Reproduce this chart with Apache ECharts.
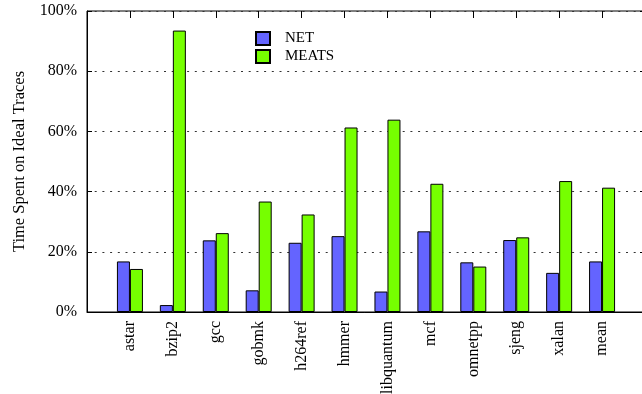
<!DOCTYPE html>
<html>
<head>
<meta charset="utf-8">
<script src="https://cdn.jsdelivr.net/npm/echarts@6/dist/echarts.min.js"></script>
<style>
  html, body { margin: 0; padding: 0; background: #fff; }
  #chart { width: 642px; height: 394px; }
</style>
</head>
<body>
<div id="chart"></div>
<script>
// Benchmarks on the x axis
const categories = ['astar', 'bzip2', 'gcc', 'gobmk', 'h264ref', 'hmmer',
  'libquantum', 'mcf', 'omnetpp', 'sjeng', 'xalan', 'mean'];

// Share of time spent on ideal traces (%)
const netValues = [16.8, 2.3, 23.8, 7.2, 23.0, 25.2, 6.8, 26.8, 16.5, 23.9, 13.0, 16.8];
const meatsValues = [14.3, 93.5, 26.2, 36.7, 32.4, 61.3, 63.9, 42.6, 15.1, 24.8, 43.5, 41.3];

const yTicks = [0, 20, 40, 60, 80, 100];

const FONT = '"Liberation Serif", "DejaVu Serif", serif';

const toPoints = vals => vals.map((v, i) => [i, v]);

const chart = echarts.init(document.getElementById('chart'), null, { renderer: 'canvas' });

chart.setOption({
  animation: false,
  backgroundColor: '#fff',
  textStyle: { fontFamily: FONT },
  grid: {
    left: 87, top: 11, width: 558, height: 301,
    outerBoundsMode: 'none', containLabel: false,
    show: true, borderColor: '#000', borderWidth: 1, backgroundColor: 'transparent'
  },
  legend: {
    orient: 'vertical',
    left: 250, top: 26,
    icon: 'rect',
    itemWidth: 14, itemHeight: 13, itemGap: 3,
    textStyle: { fontFamily: FONT, fontSize: 15, color: '#000', padding: [0, 0, 0, 10] },
    data: ['NET', 'MEATS']
  },
  xAxis: [{
    type: 'value', min: -1, max: 12, interval: 1,
    axisLine: { show: true, onZero: false, lineStyle: { color: '#000', width: 1 } },
    axisTick: { show: false },
    splitLine: { show: false },
    axisLabel: {
      rotate: 90, margin: 9, fontSize: 16, color: '#000', fontFamily: FONT,
      padding: [6, 0, 0, 0],
      formatter: v => categories[v] || ''
    }
  }, {
    type: 'value', min: -1, max: 12, interval: 1, position: 'top',
    axisLine: { show: false, onZero: false },
    axisTick: { show: true, inside: true, length: 7, lineStyle: { color: '#000' } },
    axisLabel: { show: false },
    splitLine: { show: false }
  }],
  yAxis: [{
    type: 'value', min: 0, max: 100, interval: 20,
    name: 'Time Spent on Ideal Traces',
    nameLocation: 'middle', nameGap: 59,
    nameTextStyle: { fontFamily: FONT, fontSize: 16.5, color: '#000' },
    axisLine: { show: true, onZero: false, lineStyle: { color: '#000' } },
    axisTick: { show: true, inside: true, length: 5, lineStyle: { color: '#000' } },
    axisLabel: {
      margin: 10, fontSize: 16, color: '#000', fontFamily: FONT,
      formatter: v => yTicks.includes(v) ? v + '%' : ''
    },
    splitLine: { show: true, lineStyle: { color: '#333', width: 1, type: [2, 5.7] } }
  }, {
    type: 'value', min: 0, max: 100, interval: 20, position: 'right',
    axisLine: { show: false, onZero: false },
    axisTick: { show: true, inside: true, length: 5, lineStyle: { color: '#000' } },
    axisLabel: { show: false },
    splitLine: { show: false }
  }],
  series: [{
    name: 'NET', type: 'bar', xAxisIndex: 0, yAxisIndex: 0,
    barWidth: 13, barGap: '0%',
    itemStyle: { color: '#6464ff', borderColor: '#000', borderWidth: 1 },
    data: toPoints(netValues)
  }, {
    name: 'MEATS', type: 'bar', xAxisIndex: 0, yAxisIndex: 0,
    barWidth: 13, barGap: '0%',
    itemStyle: { color: '#76ff00', borderColor: '#000', borderWidth: 1 },
    data: toPoints(meatsValues)
  }]
});
</script>
</body>
</html>
